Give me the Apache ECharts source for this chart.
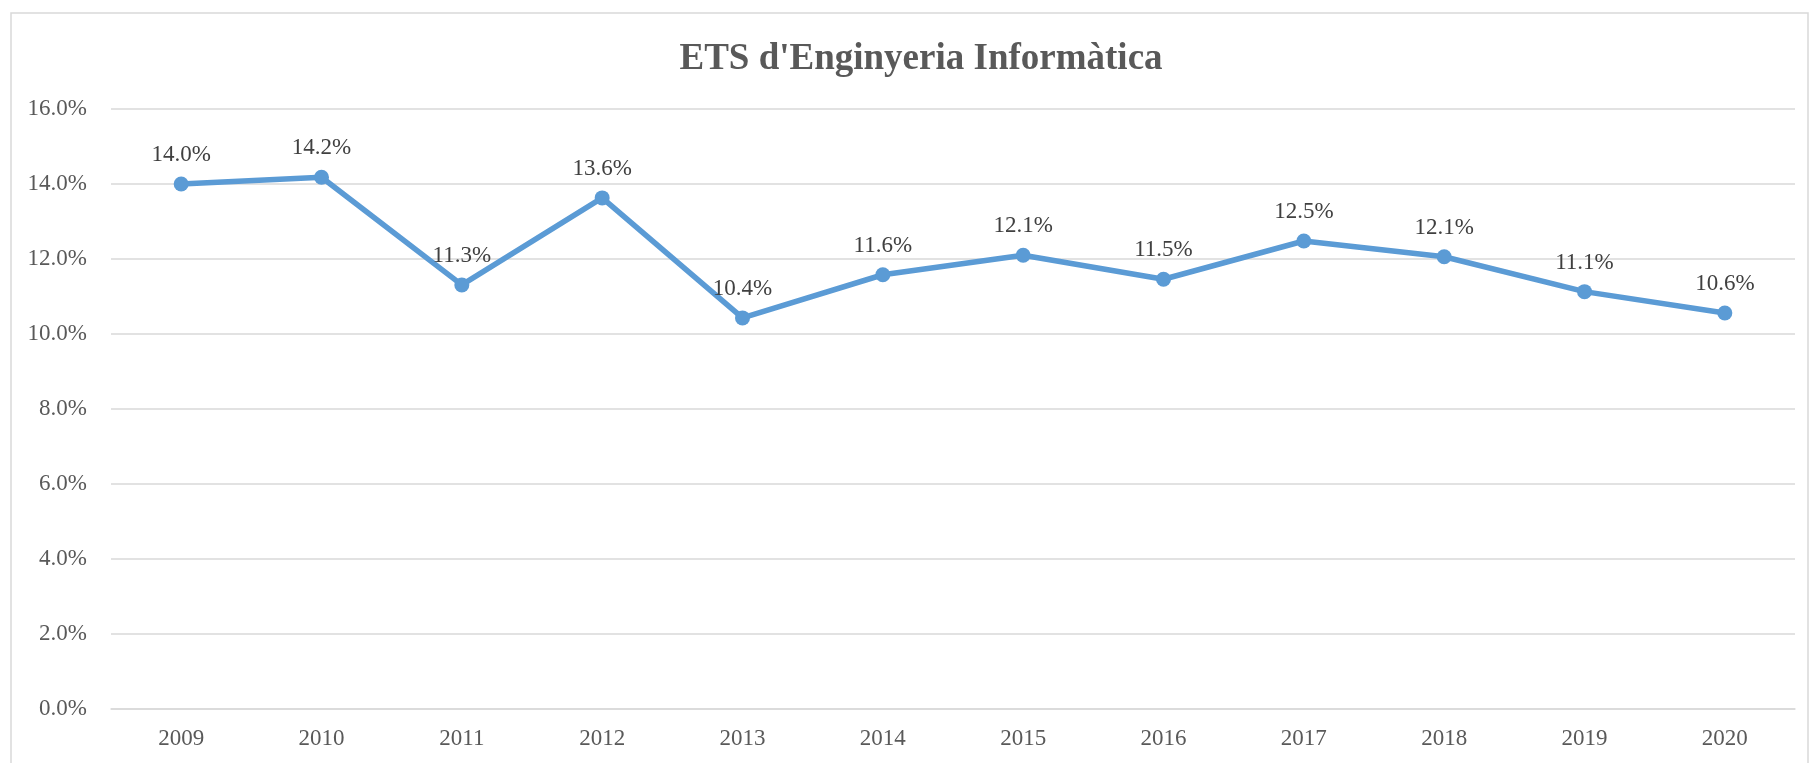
<!DOCTYPE html>
<html>
<head>
<meta charset="utf-8">
<script src="https://cdn.jsdelivr.net/npm/echarts@6/dist/echarts.min.js"></script>
<style>
  html, body { margin: 0; padding: 0; background: #fff; }
  #main { width: 1810px; height: 763px; }
</style>
</head>
<body>
<div id="main"></div>
<script>
// years and share (%)
var years = ['2009', '2010', '2011', '2012', '2013', '2014', '2015', '2016', '2017', '2018', '2019', '2020'];
var share = [14.0, 14.18, 11.31, 13.63, 10.43, 11.58, 12.10, 11.46, 12.48, 12.06, 11.13, 10.56];
var yTicks = [0, 2, 4, 6, 8, 10, 12, 14, 16];

var font = '"Liberation Serif", "Times New Roman", serif';

var chart = echarts.init(document.getElementById('main'));
var option = {
    backgroundColor: '#fff',
    animation: false,
    title: {
        text: "ETS d'Enginyeria Informàtica",
        left: 916,
        textAlign: 'center',
        top: 36,
        textStyle: {
            fontFamily: font,
            fontSize: 37,
            fontWeight: 'bold',
            color: '#595959'
        }
    },
    graphic: [{
        type: 'rect',
        shape: { x: 11, y: 13, width: 1797, height: 800 },
        style: { fill: 'none', stroke: '#d9d9d9', lineWidth: 1.5 },
        silent: true
    }],
    grid: {
        left: 111,
        right: 15,
        top: 109,
        bottom: 54
    },
    xAxis: {
        type: 'category',
        data: years,
        boundaryGap: true,
        axisLine: { show: true, lineStyle: { color: '#d9d9d9', width: 1.5 } },
        axisTick: { show: false },
        axisLabel: {
            margin: 18,
            fontFamily: font,
            fontSize: 23,
            color: '#595959'
        }
    },
    yAxis: {
        type: 'value',
        min: yTicks[0],
        max: yTicks[yTicks.length - 1],
        interval: 2,
        axisLine: { show: false },
        axisTick: { show: false },
        splitLine: { lineStyle: { color: '#d9d9d9', width: 1.5 } },
        axisLabel: {
            margin: 24,
            fontFamily: font,
            fontSize: 23,
            color: '#595959',
            formatter: function (v) { return v.toFixed(1) + '%'; }
        }
    },
    series: [{
        type: 'line',
        data: share,
        symbol: 'circle',
        symbolSize: 15,
        itemStyle: { color: '#5b9bd5' },
        lineStyle: { color: '#5b9bd5', width: 5.5 },
        label: {
            show: true,
            position: 'top',
            distance: 10,
            fontFamily: font,
            fontSize: 23,
            color: '#404040',
            formatter: function (p) { return p.value.toFixed(1) + '%'; }
        }
    }]
};
chart.setOption(option);
</script>
</body>
</html>
